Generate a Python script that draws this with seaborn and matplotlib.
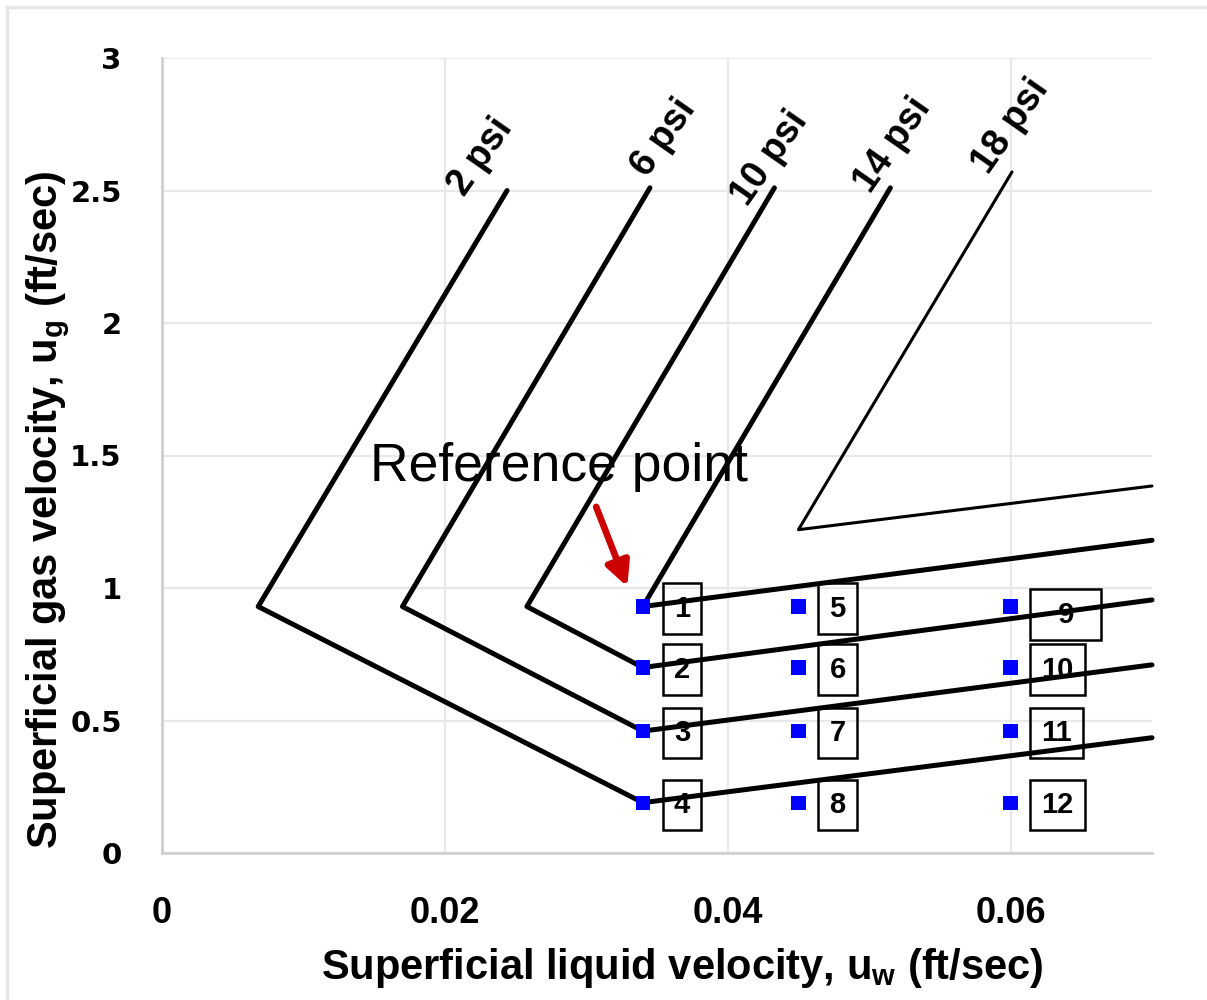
import numpy as np
import pandas as pd
import matplotlib
matplotlib.use("Agg")
import matplotlib.pyplot as plt
from matplotlib.lines import Line2D
import seaborn as sns

# Constant-pressure curves: superficial liquid velocity (ft/sec) vs superficial gas velocity (ft/sec)
curve_names = ["2 psi", "6 psi", "10 psi", "14 psi", "18 psi"]
psi2_x = [0.0244, 0.0068, 0.034, 0.070]
psi2_y = [2.50, 0.93, 0.19, 0.435]
psi6_x = [0.0345, 0.0170, 0.034, 0.070]
psi6_y = [2.51, 0.93, 0.46, 0.71]
psi10_x = [0.0433, 0.0258, 0.034, 0.070]
psi10_y = [2.51, 0.93, 0.70, 0.955]
psi14_x = [0.0515, 0.034, 0.070]
psi14_y = [2.51, 0.93, 1.18]
psi18_x = [0.0601, 0.0450, 0.070]
psi18_y = [2.57, 1.22, 1.385]

# Test-point grid
point_uw = [0.034, 0.045, 0.060]
point_ug = [0.93, 0.70, 0.46, 0.19]
point_labels = [["1", "2", "3", "4"],
                ["5", "6", "7", "8"],
                ["  9  ", "10", "11", "12"]]

x_ticks = [0, 0.02, 0.04, 0.06]
x_tick_labels = ["0", "0.02", "0.04", "0.06"]
y_ticks = [0, 0.5, 1, 1.5, 2, 2.5, 3]
y_tick_labels = ["0", "0.5", "1", "1.5", "2", "2.5", "3"]

curves_x = [psi2_x, psi6_x, psi10_x, psi14_x, psi18_x]
curves_y = [psi2_y, psi6_y, psi10_y, psi14_y, psi18_y]

rows = []
for name, xs, ys in zip(curve_names, curves_x, curves_y):
    for i, (xv, yv) in enumerate(zip(xs, ys)):
        rows.append({"curve": name, "order": i, "uw": xv, "ug": yv})
curves_df = pd.DataFrame(rows)

pts = pd.DataFrame([{"uw": xv, "ug": yv, "label": point_labels[i][j]}
                    for i, xv in enumerate(point_uw)
                    for j, yv in enumerate(point_ug)])

sns.set_theme(style="white")
plt.rcParams["font.family"] = ["Liberation Sans", "DejaVu Sans"]
for key in ["text.color", "axes.labelcolor", "xtick.color", "ytick.color"]:
    plt.rcParams[key] = "black"

fig = plt.figure(figsize=(12.07, 10.0), dpi=100)
ax = fig.add_axes([162 / 1207, 147 / 1000, 990 / 1207, 795 / 1000])

for name in curve_names:
    sub = curves_df[curves_df["curve"] == name].sort_values("order")
    lw = 2.2 if name == "18 psi" else 3.6
    sns.lineplot(data=sub, x="uw", y="ug", sort=False, estimator=None,
                 color="black", linewidth=lw, ax=ax, clip_on=False, zorder=3)

sns.scatterplot(data=pts, x="uw", y="ug", marker="s", s=105, color="#0000ff",
                edgecolor="none", ax=ax, zorder=4)

# Numbered boxes beside each test point
for _, r in pts.iterrows():
    dy = 8 if r["label"].strip() == "9" else 2
    ax.annotate(r["label"], (r["uw"], r["ug"]), xytext=(31, -dy),
                textcoords="offset pixels", ha="left", va="center",
                fontsize=21, fontweight="bold",
                bbox=dict(boxstyle="square,pad=0.38", fc="none", ec="black", lw=1.8),
                zorder=5)

# Pressure labels at the top of each curve
label_offsets = {"2 psi": (-43, -7), "6 psi": (-2, 9), "10 psi": (-27, -20),
                 "14 psi": (-20, -7), "18 psi": (-24, -3)}
for name, xs, ys in zip(curve_names, curves_x, curves_y):
    ox, oy = label_offsets[name]
    ax.annotate(name, (xs[0], ys[0]), xytext=(ox, oy), textcoords="offset pixels",
                rotation=55, rotation_mode="anchor", ha="left", va="baseline",
                fontsize=27, fontweight="bold", zorder=5)

ax.text(0.0147, 1.405, "Reference point", fontsize=38.5, color="black", zorder=6)
ax.annotate("", xy=(0.0329, 1.005), xytext=(0.0307, 1.306),
            arrowprops=dict(arrowstyle="-|>,head_width=0.6,head_length=1.2",
                            color="#cc0000", lw=4.8, shrinkA=0, shrinkB=0),
            zorder=6)

ax.set_xlim(0, 0.07)
ax.set_ylim(0, 3)
ax.set_xticks(x_ticks)
ax.set_xticklabels(x_tick_labels, fontsize=26, fontweight="bold")
ax.set_yticks(y_ticks)
ax.set_yticklabels(y_tick_labels, fontsize=21, fontweight="bold", family="DejaVu Sans")
ax.tick_params(axis="x", length=0, pad=31)
ax.tick_params(axis="y", length=0, pad=29)
ax.grid(True, color="#e8e8e8", linewidth=1.6)
ax.set_axisbelow(True)
for side in ["top", "right"]:
    ax.spines[side].set_visible(False)
for side in ["left", "bottom"]:
    ax.spines[side].set_color("#d0d0d0")
    ax.spines[side].set_linewidth(2)

ax.set_xlabel(r"Superficial liquid velocity, u$_\mathregular{w}$ (ft/sec)",
              fontsize=30, fontweight="bold", va="center")
ax.set_ylabel(r"Superficial gas velocity, u$_\mathregular{g}$ (ft/sec)",
              fontsize=30, fontweight="bold", va="center")
ax.xaxis.set_label_coords((682 - 162) / 990, -(968 - 853) / 795)
ax.yaxis.set_label_coords(-(162 - 48) / 990, (853 - 510) / 795)

# Light frame along the top and left edges of the figure
fig.add_artist(Line2D([7 / 1207, 1.0], [1 - 7 / 1000, 1 - 7 / 1000],
                      color="#e6e6e6", lw=2.5, transform=fig.transFigure))
fig.add_artist(Line2D([7 / 1207, 7 / 1207], [0, 1 - 7 / 1000],
                      color="#e6e6e6", lw=2.5, transform=fig.transFigure))

fig.savefig("out.png", dpi=100, facecolor="white")
